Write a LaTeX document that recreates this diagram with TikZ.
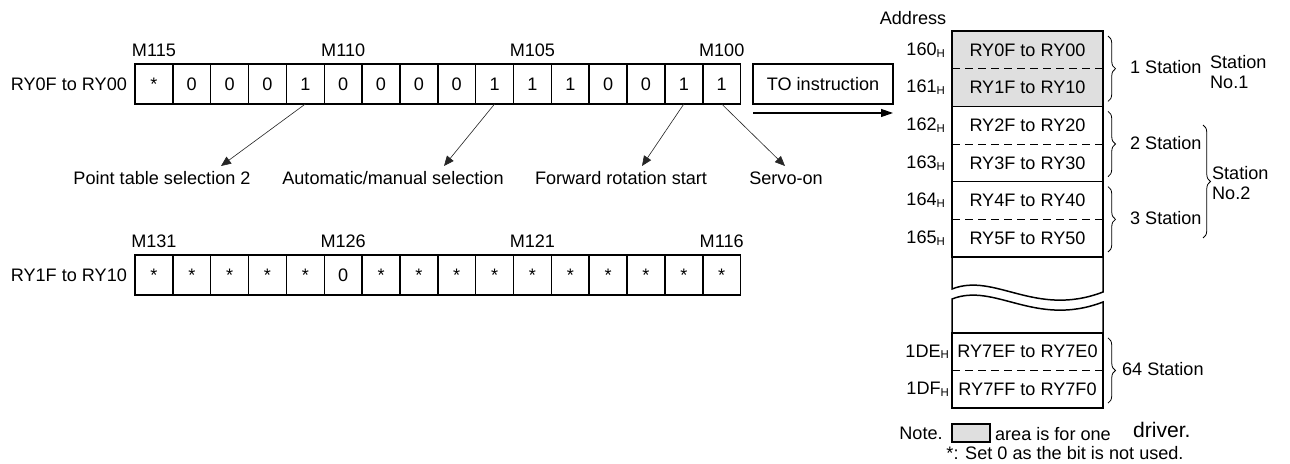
\documentclass[tikz,border=0pt]{standalone}
\usepackage{fontspec}
\setmainfont{Liberation Sans}
\usetikzlibrary{arrows.meta, positioning, decorations.pathreplacing}
\newcommand{\adr}[1]{#1\raisebox{-0.2ex}{\fontsize{6.5}{7}\selectfont H}}
\tikzset{
    texto/.style={inner sep=1pt, font=\fontsize{10.3}{11.5}\selectfont},
    bit/.style={rectangle, draw, line width=0.85pt, minimum width=0.757cm, minimum height=0.8cm, inner sep=0pt, outer sep=0pt, font=\fontsize{10.3}{12}\selectfont},
    mem_row/.style={rectangle, minimum width=3.02cm, minimum height=0.754cm, inner sep=0pt, outer sep=0pt, font=\fontsize{10.3}{12}\selectfont},
    borda/.style={line width=0.85pt},
    tracejado/.style={line width=0.5pt, dash pattern=on 0.16cm off 0.1cm},
    chave/.style={decorate, decoration={brace, amplitude=0.15cm}, line width=0.45pt},
    seta/.style={line width=0.35pt, draw=black!85, -{Triangle[length=0.2cm, width=0.17cm]}},
    seta_grossa/.style={line width=0.7pt, -{Triangle[length=0.24cm, width=0.16cm]}}
}
\begin{document}
\begin{tikzpicture}[x=0.02cm, y=-0.02cm]
        \useasboundingbox (0,0) rectangle (1290,463);

        % Bits RY0F to RY00
        \foreach \v [count=\i] in {*,0,0,0,1,0,0,0,0,1,1,1,0,0,1,1}
            \node (a\i) [bit] at ({135+37.85*(\i-0.5)}, 84) {\v};
        \node (ry_a) [texto, left=0.12cm of a1] {RY0F to RY00};
        \node (m115) [texto, above=0.1cm of a1] {M115};
        \node (m110) [texto, above=0.1cm of a6] {M110};
        \node (m105) [texto, above=0.1cm of a11] {M105};
        \node (m100) [texto, above=0.1cm of a16] {M100};

        % Bits RY1F to RY10
        \foreach \v [count=\i] in {*,*,*,*,*,0,*,*,*,*,*,*,*,*,*,*}
            \node (b\i) [bit] at ({135+37.85*(\i-0.5)}, 275) {\v};
        \node (ry_b) [texto, left=0.12cm of b1] {RY1F to RY10};
        \node (m131) [texto, above=0.1cm of b1] {M131};
        \node (m126) [texto, above=0.1cm of b6] {M126};
        \node (m121) [texto, above=0.1cm of b11] {M121};
        \node (m116) [texto, above=0.1cm of b16] {M116};

        % Signal names
        \node (pt_sel) [texto] at (162,178) {Point table selection 2};
        \node (auto_sel) [texto] at (393,178) {Automatic/manual selection};
        \node (fwd) [texto] at (621,178) {Forward rotation start};
        \node (servo) [texto] at (786,178) {Servo-on};
        \coordinate (pt_tip) at (221,166);
        \coordinate (auto_tip) at (444,166);
        \coordinate (fwd_tip) at (642,166);
        \coordinate (servo_tip) at (785,166);
        \draw [seta] (a5.south) -- (pt_tip);
        \draw [seta] (a10.south) -- (auto_tip);
        \draw [seta] (a15.south) -- (fwd_tip);
        \draw [seta] (a16.south) -- (servo_tip);

        % TO instruction
        \node (to_box) [bit, minimum width=2.8cm] at (823,84) {TO instruction};
        \draw [seta_grossa] ([yshift=-0.18cm]to_box.south west) -- ([yshift=-0.18cm]to_box.south east);

        % Buffer memory
        \node (r0) [mem_row, fill=gray!25] at (1027.5,49.85) {RY0F to RY00};
        \node (r1) [mem_row, fill=gray!25] at (1027.5,87.5) {RY1F to RY10};
        \node (r2) [mem_row] at (1027.5,125.2) {RY2F to RY20};
        \node (r3) [mem_row] at (1027.5,162.85) {RY3F to RY30};
        \node (r4) [mem_row] at (1027.5,200.5) {RY4F to RY40};
        \node (r5) [mem_row] at (1027.5,238.15) {RY5F to RY50};
        \node (r6) [mem_row] at (1027.5,351.75) {RY7EF to RY7E0};
        \node (r7) [mem_row] at (1027.5,389.25) {RY7FF to RY7F0};
        \draw [borda] (r0.north west) rectangle (r1.south east);
        \draw [borda] (r2.north west) rectangle (r3.south east);
        \draw [borda] (r4.north west) rectangle (r5.south east);
        \draw [borda] (r6.north west) rectangle (r7.south east);
        \draw [tracejado] (r0.south west) -- (r0.south east);
        \draw [tracejado] (r2.south west) -- (r2.south east);
        \draw [tracejado] (r4.south west) -- (r4.south east);
        \draw [tracejado] (r6.south west) -- (r6.south east);
        % broken part
        \draw [borda] (r5.south west) -- (952,289) .. controls (995,272) and (1035,318) .. (1103,292) -- (r5.south east);
        \draw [borda] (r6.north west) -- (952,299) .. controls (995,282) and (1035,328) .. (1103,302) -- (r6.north east);

        % Addresses
        \node (address) [texto] at (913,18) {Address};
        \node (ad160) [texto, left=0.1cm of r0] {\adr{160}};
        \node (ad161) [texto, left=0.1cm of r1] {\adr{161}};
        \node (ad162) [texto, left=0.1cm of r2] {\adr{162}};
        \node (ad163) [texto, left=0.1cm of r3] {\adr{163}};
        \node (ad164) [texto, left=0.1cm of r4] {\adr{164}};
        \node (ad165) [texto, left=0.1cm of r5] {\adr{165}};
        \node (ad1de) [texto, left=0.02cm of r6] {\adr{1DE}};
        \node (ad1df) [texto, left=0.02cm of r7] {\adr{1DF}};

        % Stations
        \draw [chave] ([xshift=0.1cm, yshift=-0.1cm]r0.north east) -- ([xshift=0.1cm, yshift=0.1cm]r1.south east);
        \draw [chave] ([xshift=0.1cm, yshift=-0.1cm]r2.north east) -- ([xshift=0.1cm, yshift=0.1cm]r3.south east);
        \draw [chave] ([xshift=0.1cm, yshift=-0.1cm]r4.north east) -- ([xshift=0.1cm, yshift=0.1cm]r5.south east);
        \draw [chave] ([xshift=0.1cm, yshift=-0.1cm]r6.north east) -- ([xshift=0.1cm, yshift=0.1cm]r7.south east);
        \node (st_1) [texto, anchor=west] at (1128,67) {1 Station};
        \node (st_2) [texto, anchor=west] at (1128,143) {2 Station};
        \node (st_3) [texto, anchor=west] at (1128,218) {3 Station};
        \node (st_64) [texto, anchor=west] at (1120,369) {64 Station};
        \draw [chave] (1203,125) -- (1203,238);
        \node (no_1) [texto, anchor=west, align=left] at (1208,72) {Station\\No.1};
        \node (no_2) [texto, anchor=west, align=left] at (1210,183) {Station\\No.2};

        % Note
        \node (note) [texto] at (921,433) {Note.};
        \node (note_box) [draw, fill=gray!25, line width=0.6pt, minimum width=0.76cm, minimum height=0.36cm, inner sep=0pt] at (971,433) {};
        \node (note_txt) [texto, anchor=west] at (993,434) {area is for one};
        \node (note_drv) [texto, anchor=west, font=\fontsize{12}{13}\selectfont] at (1131,430) {driver.};
        \node (note_bit) [texto] at (1065,453) {*: Set 0 as the bit is not used.};

    \end{tikzpicture}
\end{document}
